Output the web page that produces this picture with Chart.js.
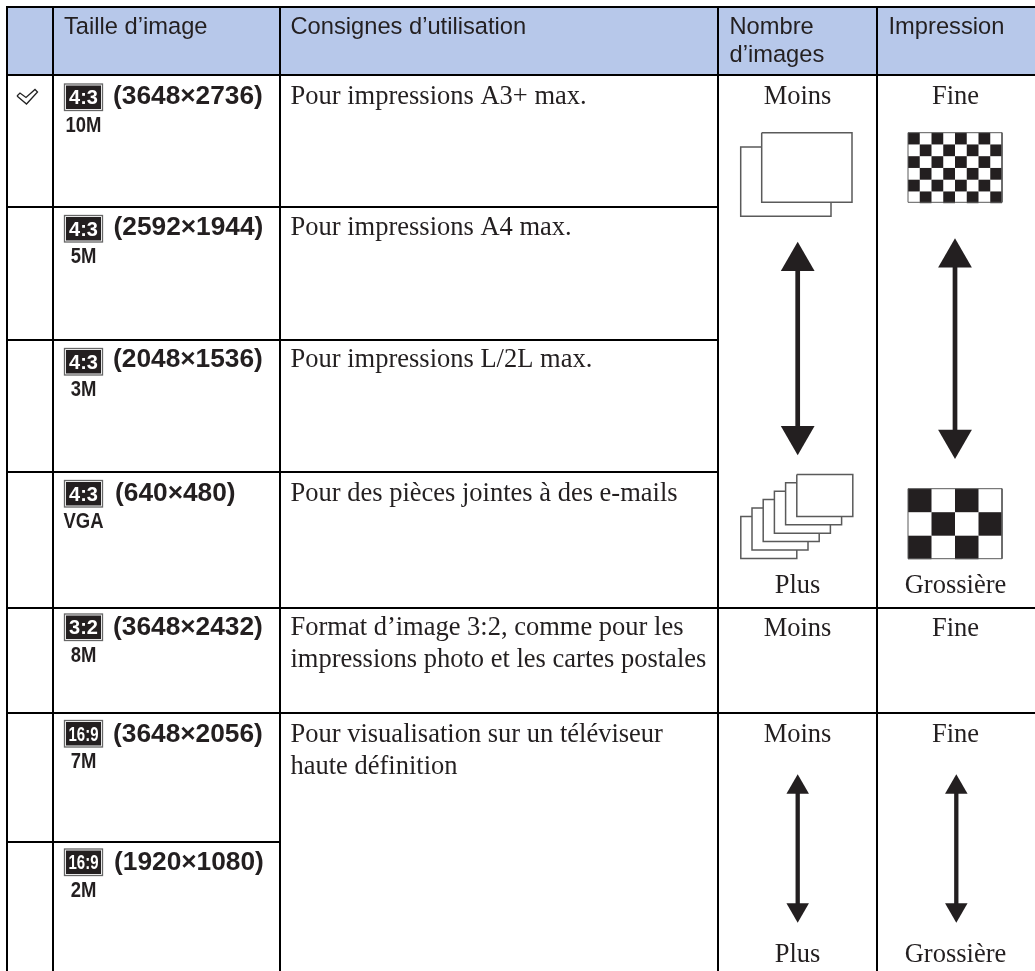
<!DOCTYPE html>
<html lang="fr">
<head>
<meta charset="utf-8">
<title>Taille d'image</title>
<script src="https://cdn.jsdelivr.net/npm/chart.js@4/dist/chart.umd.min.js"></script>
<style>
    html, body { margin: 0; padding: 0; background: #fff; }
    canvas { display: block; }
</style>
</head>
<body>
<canvas id="sizeTable" width="1035" height="971"></canvas>
<script>
// table content
const headerLabels = [['Taille d’image'], ['Consignes d’utilisation'], ['Nombre', 'd’images'], ['Impression']];
const ratioBadges = ['4:3', '4:3', '4:3', '4:3', '3:2', '16:9', '16:9'];
const megapixels = ['10M', '5M', '3M', 'VGA', '8M', '7M', '2M'];
const imageSizes = ['(3648×2736)', '(2592×1944)', '(2048×1536)', '(640×480)', '(3648×2432)', '(3648×2056)', '(1920×1080)'];
const usageNotes = [
    ['Pour impressions A3+ max.'],
    ['Pour impressions A4 max.'],
    ['Pour impressions L/2L max.'],
    ['Pour des pièces jointes à des e-mails'],
    ['Format d’image 3:2, comme pour les', 'impressions photo et les cartes postales'],
    ['Pour visualisation sur un téléviseur', 'haute définition'],
    []
];
const fineChecker = ['X.X.X.X.', '.X.X.X.X', 'X.X.X.X.', '.X.X.X.X', 'X.X.X.X.', '.X.X.X.X'];
const coarseChecker = ['X.X.', '.X.X', 'X.X.'];

// table layout, in the units of the two scales
const colEdges = [7, 53, 280, 718, 877, 1035];
const rowEdges = [7, 75, 207, 340, 472, 608, 713, 842, 971];
const rowBaselines = [104, 235, 367, 501, 635, 742, 870];
const badgeTops = [83.5, 215, 348, 480, 613.5, 720, 848.5];
const sizeTextX = [113, 113.5, 113, 115, 113, 113, 114];
const headerTextX = [64, 290.5, 729.5, 888.5];
const countX = 797.5;
const printX = 955.5;

const INK = '#231f20';
const OUTLINE = '#5a5a5a';

const SANS = '"Liberation Sans", Arial, sans-serif';
const SERIF = '"Liberation Serif", "Times New Roman", serif';

// polylines separated by gaps, so one dataset can hold many segments
function polylines(list) {
    const pts = [];
    list.forEach(line => {
        line.forEach(p => pts.push({ x: p[0], y: p[1] }));
        pts.push({ x: line[0][0], y: null });
    });
    return pts;
}

function gridSegments() {
    const [x0, x1, x2, x3, x4, x5] = colEdges;
    const [y0, y1, y2, y3, y4, y5, y6, y7, y8] = rowEdges;
    return polylines([
        [[x0 - 1, y0], [x5, y0]],
        [[x0, y1], [x5, y1]],
        [[x0, y2], [x3, y2]],
        [[x0, y3], [x3, y3]],
        [[x0, y4], [x3, y4]],
        [[x0, y5], [x5, y5]],
        [[x0, y6], [x5, y6]],
        [[x0, y7], [x2, y7]],
        [[x0, y0], [x0, y8]],
        [[x1, y0], [x1, y8]],
        [[x2, y0], [x2, y8]],
        [[x3, y0], [x3, y8]],
        [[x4, y0], [x4, y8]]
    ]);
}

// stacked sheets: back sheets show only their left and bottom edges
function sheetStack(left, top, w, h, count, stepX, stepY) {
    const lines = [];
    for (let i = 0; i < count; i++) {
        const x = left + i * stepX;
        const y = top + i * stepY;
        if (i === count - 1) {
            lines.push([[x, y], [x + w, y], [x + w, y + h], [x, y + h], [x, y]]);
        } else {
            lines.push([[x + stepX, y], [x, y], [x, y + h], [x + w, y + h], [x + w, y + h + stepY]]);
        }
    }
    return polylines(lines);
}

function checkerCells(pattern, left, top, cell) {
    const pts = [];
    pattern.forEach((row, r) => {
        row.split('').forEach((c, i) => {
            if (c === 'X') pts.push({ x: left + (i + 0.5) * cell, y: top + (r + 0.5) * cell });
        });
    });
    return pts;
}

function outlineSet(data, color, width) {
    return {
        type: 'line', data, borderColor: color, borderWidth: width, pointRadius: 0,
        spanGaps: false, tension: 0, fill: false, borderCapStyle: 'butt', borderJoinStyle: 'miter'
    };
}

// a rect point of radius r is drawn with a side of r * sqrt(2)
function cellSet(data, side) {
    return {
        type: 'line', data, showLine: false, pointStyle: 'rect', pointRadius: side / Math.SQRT2,
        pointBackgroundColor: INK, pointBorderWidth: 0
    };
}

function arrowSet(x, upTip, downTip, r, shaft) {
    return [
        {
            type: 'line', data: [{ x, y: upTip + r }], showLine: false, pointStyle: 'triangle', pointRadius: r,
            pointBackgroundColor: INK, pointBorderWidth: 0
        },
        {
            type: 'line', data: [{ x, y: downTip - r }], showLine: false, pointStyle: 'triangle', pointRadius: r,
            pointRotation: 180, pointBackgroundColor: INK, pointBorderWidth: 0
        },
        outlineSet([{ x, y: upTip + r }, { x, y: downTip - r }], INK, shaft)
    ];
}

// all the lettering and the small ratio badges
const tableText = {
    id: 'tableText',
    afterDatasetsDraw(chart) {
        const { ctx, scales: { x, y } } = chart;
        const put = (text, px, py, font, align, color) => {
            ctx.font = font;
            ctx.textAlign = align || 'left';
            ctx.fillStyle = color || INK;
            ctx.fillText(text, x.getPixelForValue(px), y.getPixelForValue(py));
        };
        ctx.save();
        ctx.textBaseline = 'alphabetic';

        const headFont = '23.7px ' + SANS;
        headerLabels.forEach((lines, i) => {
            lines.forEach((t, j) => put(t, headerTextX[i], 33.5 + j * 28.5, headFont));
        });

        const bodyFont = '26.5px ' + SERIF;
        const boldFont = 'bold 26.3px ' + SANS;
        rowBaselines.forEach((base, i) => {
            put(imageSizes[i], sizeTextX[i], base, boldFont);
            usageNotes[i].forEach((t, j) => put(t, 290.5, base + j * 31.7, bodyFont));

            // badge
            const left = x.getPixelForValue(64);
            const top = y.getPixelForValue(badgeTops[i]);
            ctx.strokeStyle = '#666';
            ctx.lineWidth = 1.3;
            ctx.strokeRect(left + 0.5, top + 0.5, 38, 26.5);
            ctx.fillStyle = INK;
            ctx.fillRect(left + 2, top + 2, 35, 23.5);
            ctx.font = 'bold 20px ' + SANS;
            ctx.textAlign = 'center';
            ctx.fillStyle = '#fff';
            ctx.fillText(ratioBadges[i], left + 19.5, top + 20.5, 30);

            // megapixel label, condensed
            ctx.font = 'bold 22px ' + SANS;
            ctx.fillStyle = INK;
            const w = ctx.measureText(megapixels[i]).width;
            ctx.fillText(megapixels[i], left + 19.5, top + 48, w * 0.84);
        });

        put('Moins', countX, 104, bodyFont, 'center');
        put('Fine', printX, 104, bodyFont, 'center');
        put('Plus', countX, 592.5, bodyFont, 'center');
        put('Grossière', printX, 592.5, bodyFont, 'center');
        put('Moins', countX, 635.5, bodyFont, 'center');
        put('Fine', printX, 635.5, bodyFont, 'center');
        put('Moins', countX, 741.5, bodyFont, 'center');
        put('Fine', printX, 741.5, bodyFont, 'center');
        put('Plus', countX, 961.5, bodyFont, 'center');
        put('Grossière', printX, 961.5, bodyFont, 'center');
        ctx.restore();
    }
};

const datasets = [
    outlineSet(gridSegments(), '#000', 2),
    outlineSet(polylines([[[17, 96], [20, 93], [26, 97.5], [35, 89.5], [37.5, 92], [26.5, 104], [17, 96]]]), '#222', 1.3),
    outlineSet(polylines([
        [[761.7, 147], [740.7, 147], [740.7, 216.3], [831, 216.3], [831, 202.3]],
        [[761.7, 132.7], [852, 132.7], [852, 202.3], [761.7, 202.3], [761.7, 132.7]]
    ]), OUTLINE, 1.5),
    outlineSet(sheetStack(740.8, 516.4, 56, 42, 6, 11.2, -8.4), OUTLINE, 1.5),
    outlineSet(polylines([[[908, 132.7], [1002, 132.7], [1002, 202.3], [908, 202.3], [908, 132.7]]]), OUTLINE, 1),
    outlineSet(polylines([[[908, 488.7], [1002, 488.7], [1002, 558.7], [908, 558.7], [908, 488.7]]]), OUTLINE, 1),
    cellSet(checkerCells(fineChecker, 908, 132.7, 11.75), 11.75),
    cellSet(checkerCells(coarseChecker, 908, 488.7, 23.5), 23.5),
    ...arrowSet(797.7, 241.7, 455.3, 19.5, 4.7),
    ...arrowSet(955, 238.3, 459, 19.5, 4.7),
    ...arrowSet(797.7, 774.3, 922.7, 13, 4.3),
    ...arrowSet(956.3, 774.3, 922.7, 13, 4.3),
    {
        type: 'line',
        data: [{ x: colEdges[0], y: rowEdges[0] }, { x: colEdges[5], y: rowEdges[0] }],
        borderWidth: 0, pointRadius: 0, backgroundColor: '#b7c8ea',
        fill: { value: rowEdges[1] }
    }
];

new Chart(document.getElementById('sizeTable'), {
    type: 'line',
    data: { datasets },
    plugins: [tableText],
    options: {
        responsive: false,
        animation: false,
        parsing: { xAxisKey: 'x', yAxisKey: 'y' },
        layout: { padding: 0, autoPadding: false },
        events: [],
        plugins: { legend: { display: false }, tooltip: { enabled: false } },
        scales: {
            x: { type: 'linear', min: 0, max: 1035, display: false },
            y: { type: 'linear', min: 0, max: 971, reverse: true, display: false }
        }
    }
});
</script>
</body>
</html>
